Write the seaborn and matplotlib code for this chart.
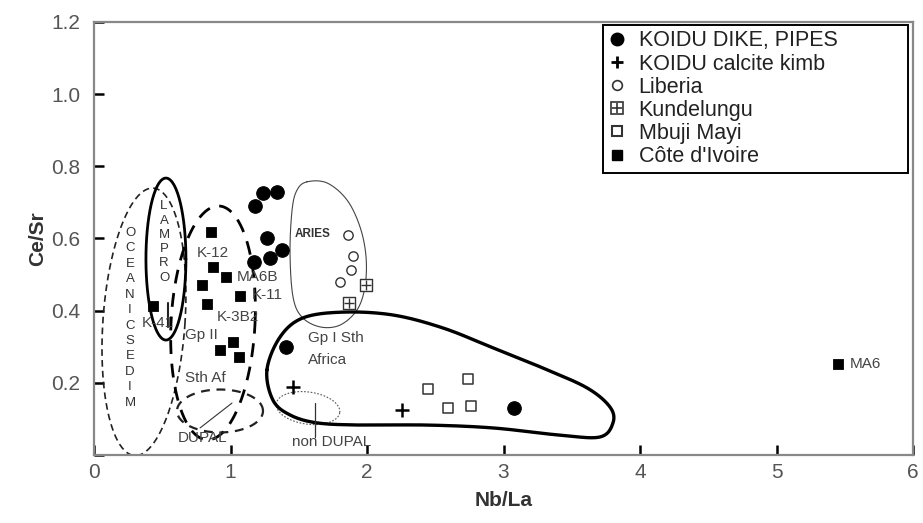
import numpy as np
import matplotlib
matplotlib.use("Agg")
import matplotlib.pyplot as plt
import seaborn as sns
from matplotlib.lines import Line2D
from matplotlib.legend_handler import HandlerTuple

sns.set_style("ticks")
plt.rcParams['font.family'] = ['Liberation Sans', 'DejaVu Sans']

# ---- data (Nb/La vs Ce/Sr) ----
koidu_dike_x = [1.24, 1.34, 1.18, 1.27, 1.38, 1.29, 1.17, 1.41, 3.08]
koidu_dike_y = [0.726, 0.729, 0.690, 0.601, 0.568, 0.546, 0.535, 0.299, 0.130]

koidu_calc_x = [1.46, 2.26]
koidu_calc_y = [0.188, 0.125]

liberia_x = [1.86, 1.90, 1.88, 1.80]
liberia_y = [0.610, 0.552, 0.513, 0.479]

kundelungu_x = [1.99, 1.87]
kundelungu_y = [0.471, 0.421]

mbuji_x = [2.45, 2.59, 2.74, 2.76]
mbuji_y = [0.183, 0.130, 0.211, 0.136]

cote_x = [0.86, 0.87, 0.97, 0.79, 0.83, 1.07, 0.43, 0.92, 1.02, 1.06, 5.45]
cote_y = [0.618, 0.521, 0.493, 0.471, 0.418, 0.441, 0.413, 0.291, 0.313, 0.272, 0.252]

# field outlines (control points of closed curves)
gp1_x = [1.267, 1.363, 1.531, 1.824, 2.190, 2.557, 2.923, 3.289, 3.612, 3.780,
         3.802, 3.707, 3.414, 2.923, 2.440, 1.949, 1.634, 1.436, 1.311]
gp1_y = [0.236, 0.327, 0.380, 0.396, 0.388, 0.352, 0.297, 0.241, 0.186, 0.133,
         0.089, 0.050, 0.055, 0.075, 0.083, 0.083, 0.089, 0.111, 0.152]

aries_x = [1.560, 1.707, 1.853, 1.949, 1.993, 1.985, 1.927, 1.802, 1.656, 1.524,
           1.458, 1.436, 1.451, 1.487]
aries_y = [0.757, 0.754, 0.707, 0.632, 0.549, 0.466, 0.402, 0.360, 0.355, 0.382,
           0.438, 0.560, 0.679, 0.734]

# ellipses: centre x, centre y, width, height, tilt (deg)
oceanic_ell = (0.366, 0.369, 0.601, 0.743, -4)
lamproite_ell = (0.527, 0.543, 0.293, 0.449, 0)
gp2_ell = (0.872, 0.366, 0.615, 0.649, -3)
dupal_ell = (0.923, 0.122, 0.630, 0.119, 0)
nondupal_ell = (1.568, 0.130, 0.469, 0.089, -8)

labels = ["KOIDU DIKE, PIPES", "KOIDU calcite kimb", "Liberia",
          "Kundelungu", "Mbuji Mayi", "Côte d'Ivoire"]

ASPECT = 360.8 / 136.5  # pixels per unit y / pixels per unit x


def ellipse_xy(cx, cy, w, h, ang, n=200):
    t = np.linspace(0, 2 * np.pi, n)
    u = w / 2 * np.cos(t)
    v = h / 2 * ASPECT * np.sin(t)
    a = np.deg2rad(ang)
    ur = u * np.cos(a) - v * np.sin(a)
    vr = u * np.sin(a) + v * np.cos(a)
    return cx + ur, cy + vr / ASPECT


def closed_spline(xs, ys, n=24):
    p = np.column_stack([xs, ys])
    m = len(p)
    t = np.linspace(0, 1, n, endpoint=False)[:, None]
    out = []
    for i in range(m):
        p0, p1, p2, p3 = p[i - 1], p[i], p[(i + 1) % m], p[(i + 2) % m]
        seg = 0.5 * (2 * p1 + (-p0 + p2) * t + (2 * p0 - 5 * p1 + 4 * p2 - p3) * t ** 2
                     + (-p0 + 3 * p1 - 3 * p2 + p3) * t ** 3)
        out.append(seg)
    out.append(p[:1])
    out = np.vstack(out)
    return out[:, 0], out[:, 1]


fig, ax = plt.subplots(figsize=(9.23, 5.23), dpi=100)
fig.subplots_adjust(left=94 / 923, right=913 / 923, bottom=(523 - 455) / 523, top=(523 - 22) / 523)

# field outlines
x, y = ellipse_xy(*oceanic_ell)
ax.plot(x, y, color='#222', lw=1.2, ls=(0, (4, 2.5)), zorder=2)
x, y = ellipse_xy(*lamproite_ell)
ax.plot(x, y, color='black', lw=2.0, zorder=2)
x, y = ellipse_xy(*gp2_ell)
ax.plot(x, y, color='black', lw=2.0, ls=(0, (5, 3.5)), zorder=2)
x, y = ellipse_xy(*dupal_ell)
ax.plot(x, y, color='#222', lw=1.6, ls=(0, (4, 3)), zorder=2)
x, y = ellipse_xy(*nondupal_ell)
ax.plot(x, y, color='#555', lw=0.8, ls=(0, (1.5, 1.5)), zorder=2)
x, y = closed_spline(aries_x, aries_y)
ax.plot(x, y, color='#444', lw=0.8, zorder=2)
x, y = closed_spline(gp1_x, gp1_y)
ax.plot(x, y, color='black', lw=2.4, zorder=2)

# leader lines
ax.plot([0.777, 1.011], [0.075, 0.144], color='#333', lw=0.8, zorder=2)
ax.plot([1.619, 1.619], [0.144, 0.050], color='#333', lw=0.9, zorder=2)
ax.plot([0.54, 0.54], [0.421, 0.355], color='#222', lw=1.5, zorder=2)

# data points
sns.scatterplot(x=koidu_dike_x, y=koidu_dike_y, marker='o', s=95, color='black',
                edgecolor='black', ax=ax, zorder=4)
sns.scatterplot(x=koidu_calc_x, y=koidu_calc_y, marker='+', s=90, color='black',
                linewidth=1.8, ax=ax, zorder=4)
sns.scatterplot(x=liberia_x, y=liberia_y, marker='o', s=45, color='white',
                edgecolor='#333', linewidth=1.0, ax=ax, zorder=4)
sns.scatterplot(x=kundelungu_x, y=kundelungu_y, marker='s', s=75, color='white',
                edgecolor='#333', linewidth=1.0, ax=ax, zorder=4)
sns.scatterplot(x=kundelungu_x, y=kundelungu_y, marker='+', s=60, color='#333',
                linewidth=1.0, ax=ax, zorder=5)
sns.scatterplot(x=mbuji_x, y=mbuji_y, marker='s', s=60, color='white',
                edgecolor='#333', linewidth=1.1, ax=ax, zorder=4)
sns.scatterplot(x=cote_x, y=cote_y, marker='s', s=55, color='black',
                edgecolor='black', ax=ax, zorder=4)

# field labels
lab = dict(color='#444', fontsize=11, va='center', ha='left', zorder=6)
ax.text(0.755, 0.560, "K-12", **lab)
ax.text(1.048, 0.493, "MA6B", **lab)
ax.text(1.158, 0.443, "K-11", **lab)
ax.text(0.901, 0.382, "K-3B2", **lab)
ax.text(0.352, 0.366, "K-41", **lab)
ax.text(0.667, 0.333, "Gp II", **lab)
ax.text(0.667, 0.213, "Sth Af", **lab)
ax.text(0.615, 0.047, "DUPAL", **lab)
ax.text(1.568, 0.324, "Gp I Sth", **lab)
ax.text(1.568, 0.263, "Africa", **lab)
ax.text(1.451, 0.036, "non DUPAL", **lab)
ax.text(5.538, 0.253, "MA6", **lab)
ax.text(1.473, 0.613, "ARIES", color='#333', fontsize=8.5, fontweight='bold',
        va='center', ha='left', zorder=6)
ax.text(0.264, 0.380, "\n".join("OCEANICSEDIM"), color='#333', fontsize=9.5,
        ha='center', va='center', linespacing=1.38, zorder=6)
ax.text(0.513, 0.590, "\n".join("LAMPRO"), color='#333', fontsize=9.5,
        ha='center', va='center', linespacing=1.25, zorder=6)

# axes
ax.set_xlim(0, 6)
ax.set_ylim(0, 1.2)
ax.set_xticks(range(7))
ax.set_yticks([0, 0.2, 0.4, 0.6, 0.8, 1.0, 1.2])
ax.set_yticklabels(["", "0.2", "0.4", "0.6", "0.8", "1.0", "1.2"])
ax.set_xticklabels(["0", "1", "2", "3", "4", "5", "6"])
ax.tick_params(direction='in', length=7, width=1.8, color='black',
               labelsize=15, labelcolor='#555')
ax.tick_params(axis='x', pad=6)
ax.tick_params(axis='y', pad=10)
for sp in ax.spines.values():
    sp.set_visible(True)
    sp.set_color('#888')
    sp.set_linewidth(1.6)
ax.set_xlabel("Nb/La", fontsize=15, fontweight='bold', color='#333', labelpad=6)
ax.set_ylabel("Ce/Sr", fontsize=15, fontweight='bold', color='#333', labelpad=3)

# legend
h_dike = Line2D([], [], marker='o', ls='', color='black', markersize=9)
h_calc = Line2D([], [], marker='+', ls='', color='black', markersize=8, mew=2)
h_lib = Line2D([], [], marker='o', ls='', mfc='white', mec='#333', markersize=7, mew=1.2)
h_kun = (Line2D([], [], marker='s', ls='', mfc='white', mec='#333', markersize=8, mew=1.2),
         Line2D([], [], marker='+', ls='', color='#333', markersize=7, mew=1.2))
h_mbu = Line2D([], [], marker='s', ls='', mfc='white', mec='#333', markersize=7, mew=1.5)
h_cot = Line2D([], [], marker='s', ls='', color='black', markersize=7)
leg = ax.legend([h_dike, h_calc, h_lib, h_kun, h_mbu, h_cot], labels,
                handler_map={tuple: HandlerTuple(ndivide=1, pad=0)},
                loc='upper left', bbox_to_anchor=(0.6215, 0.5, 0.3725, 0.493),
                mode='expand', borderaxespad=0, frameon=True, fancybox=False,
                edgecolor='black', framealpha=1, fontsize=15.5,
                handlelength=0.8, handletextpad=0.6, labelspacing=0.1,
                borderpad=0.25)
leg.get_frame().set_linewidth(1.4)
for t in leg.get_texts():
    t.set_color('#222')

fig.savefig("out.png", dpi=100)
